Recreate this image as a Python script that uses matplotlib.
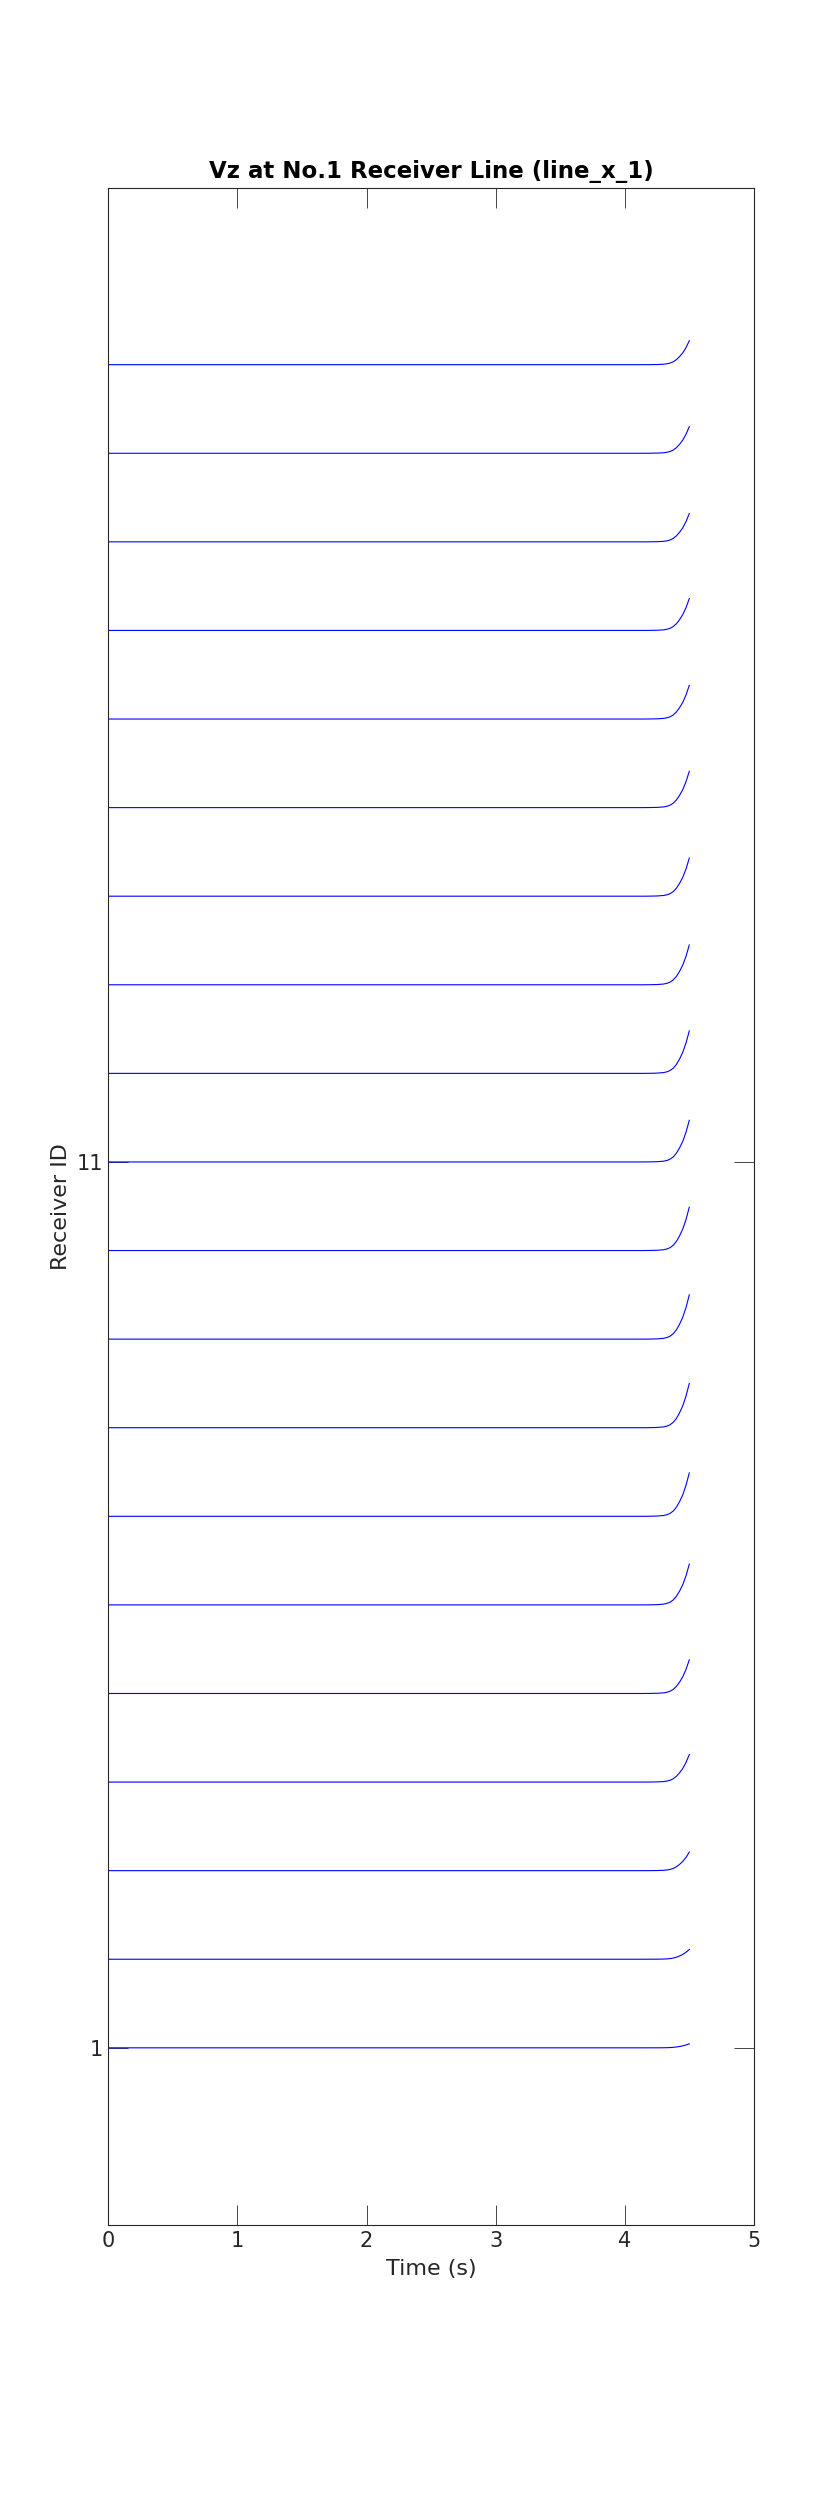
import matplotlib
matplotlib.use("Agg")
import matplotlib.pyplot as plt

# receiver ids and the peak of each trace at the end (in y units)
receiver_ids = list(range(1, 21))
end_amp = [0.045, 0.11, 0.21, 0.31, 0.38, 0.46, 0.49, 0.50, 0.50, 0.49,
           0.47, 0.48, 0.45, 0.43, 0.41, 0.38, 0.36, 0.32, 0.30, 0.27]

# sampled time axis and the common trace shape (normalised to the end value)
time_s = [0.0, 1.0, 2.0, 3.0, 4.0, 4.15, 4.2, 4.25, 4.3, 4.325, 4.35, 4.375, 4.4,
          4.425, 4.45, 4.475, 4.5]
shape = [0.0, 0.0, 0.0, 0.0, 0.0, 0.0, 0.002, 0.006, 0.018, 0.035, 0.065, 0.12, 0.21,
         0.34, 0.5, 0.72, 1.0]

ink = '#262626'
plt.rcParams['font.family'] = 'DejaVu Sans'

fig = plt.figure(figsize=(8.33, 25), dpi=100)
ax = fig.add_axes([0.13, 0.11, 0.775, 0.815])

for rid, a in zip(receiver_ids, end_amp):
    ax.plot(time_s, [rid + a * s for s in shape], color=(0, 0, 1), linewidth=0.8)

ax.set_xlim(0, 5)
ax.set_ylim(-1, 22)
ax.set_xticks([0, 1, 2, 3, 4, 5])
ax.set_yticks([1, 11])
ax.tick_params(direction='in', length=14.4, width=0.6, top=True, right=True,
               colors=ink, labelsize=15, pad=4)
for sp in ax.spines.values():
    sp.set_color(ink)
    sp.set_linewidth(0.8)

ax.set_title("Vz at No.1 Receiver Line (line_x_1)", fontsize=16.5, fontweight='bold',
             color='black', pad=7)
ax.set_xlabel("Time (s)", fontsize=16, color=ink, labelpad=6)
ax.set_ylabel("Receiver ID", fontsize=16, color=ink, labelpad=4)

fig.savefig("out.png", dpi=100, facecolor='white')
